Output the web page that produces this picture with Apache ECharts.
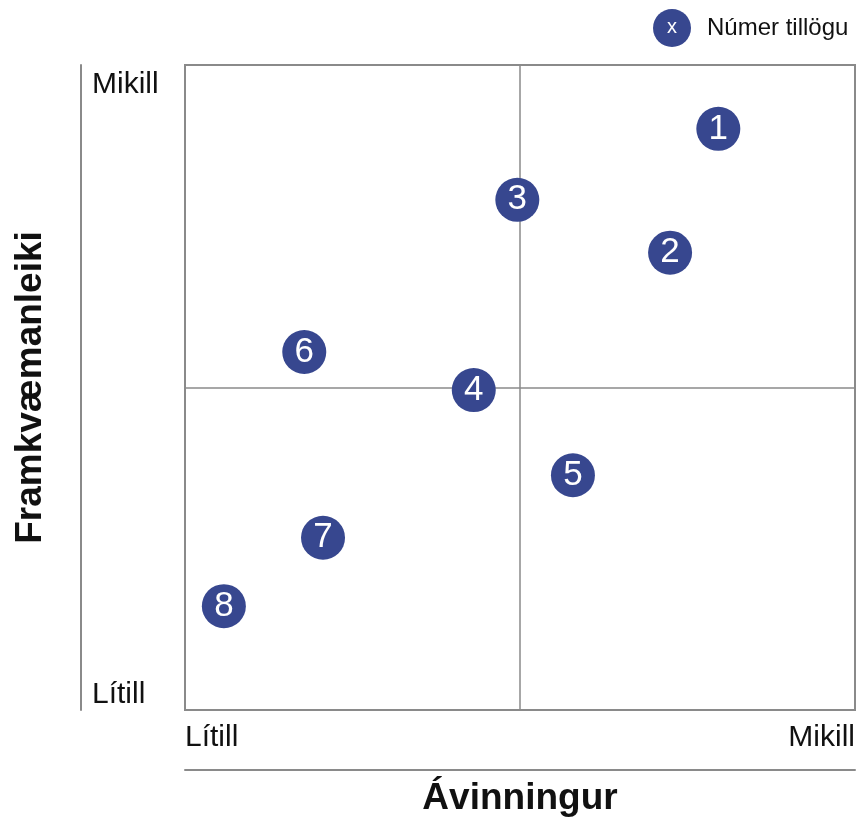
<!DOCTYPE html>
<html>
<head>
<meta charset="utf-8">
<script src="https://cdn.jsdelivr.net/npm/echarts@6/dist/echarts.min.js"></script>
<style>
  html, body { margin: 0; padding: 0; background: #fff; }
  #chart { width: 857px; height: 819px; }
</style>
</head>
<body>
<div id="chart"></div>
<script>
// tillögur: ávinningur (x), framkvæmanleiki (y) á 0-10 kvarða
const ids = [1, 2, 3, 4, 5, 6, 7, 8];
const benefit = [7.96, 7.24, 4.96, 4.31, 5.79, 1.78, 2.06, 0.58];
const feasibility = [9.01, 7.09, 7.91, 4.96, 3.64, 5.55, 2.67, 1.61];
const tickLabels = { 0: "Lítill", 10: "Mikill" };

const FONT = "Liberation Sans, Arial, sans-serif";
const BLUE = "#37478f";
const GREY = "#8a8a8a";

const chart = echarts.init(document.getElementById("chart"));

const points = ids.map((id, i) => [benefit[i], feasibility[i], id]);

chart.setOption({
  animation: false,
  textStyle: { fontFamily: FONT },
  grid: {
    left: 185, right: 2, top: 65, bottom: 109,
    outerBoundsMode: "none", containLabel: false,
    show: true, borderColor: GREY, borderWidth: 2,
  },
  legend: {
    left: 653, top: 9, padding: 0,
    icon: "circle",
    itemWidth: 38, itemHeight: 38,
    textStyle: { fontSize: 24, color: "#111", fontFamily: FONT, padding: [0, 0, 0, 11] },
    data: ["Númer tillögu"],
  },
  xAxis: [
    {
      type: "value", min: 0, max: 10, interval: 5,
      name: "Ávinningur", nameLocation: "middle", nameGap: 70,
      nameTextStyle: { fontSize: 37, fontWeight: "bold", color: "#111", fontFamily: FONT },
      axisLine: { show: false },
      axisTick: { show: false },
      splitLine: { lineStyle: { color: GREY, width: 1.5 } },
      axisLabel: {
        margin: 13, fontSize: 30, color: "#111",
        formatter: v => tickLabels[v] || "",
        alignMinLabel: "left", alignMaxLabel: "right",
      },
    },
    {
      type: "value", min: 0, max: 10, position: "bottom", offset: 60,
      axisLine: { show: true, onZero: false, lineStyle: { color: GREY, width: 2 } },
      axisTick: { show: false }, axisLabel: { show: false }, splitLine: { show: false },
    },
  ],
  yAxis: [
    {
      type: "value", min: 0, max: 10, interval: 5,
      name: "Framkvæmanleiki", nameLocation: "middle", nameGap: 136,
      nameTextStyle: { fontSize: 37, fontWeight: "bold", color: "#111", fontFamily: FONT },
      axisLine: { show: false },
      axisTick: { show: false },
      splitLine: { lineStyle: { color: GREY, width: 1.5 } },
      axisLabel: {
        margin: 93, align: "left", fontSize: 30, color: "#111",
        formatter: v => v === 10 ? "{top|" + tickLabels[v] + "}" : (tickLabels[v] || ""),
        rich: { top: { fontSize: 30, color: "#111", fontFamily: FONT, padding: [5, 0, 0, 0] } },
        verticalAlignMinLabel: "bottom", verticalAlignMaxLabel: "top",
      },
    },
    {
      type: "value", min: 0, max: 10, position: "left", offset: 104,
      axisLine: { show: true, onZero: false, lineStyle: { color: GREY, width: 2 } },
      axisTick: { show: false }, axisLabel: { show: false }, splitLine: { show: false },
    },
  ],
  graphic: [
    {
      type: "text", x: 672, y: 27, z: 100,
      style: { text: "x", fill: "#fff", fontSize: 20, fontFamily: FONT, align: "center", verticalAlign: "middle" },
    },
  ],
  series: [
    {
      name: "Númer tillögu",
      type: "scatter",
      symbolSize: 44,
      itemStyle: { color: BLUE, opacity: 1 },
      label: {
        show: true, position: "inside", color: "#fff", fontSize: 35, fontFamily: FONT,
        formatter: p => p.value[2],
      },
      data: points,
    },
  ],
});
</script>
</body>
</html>
